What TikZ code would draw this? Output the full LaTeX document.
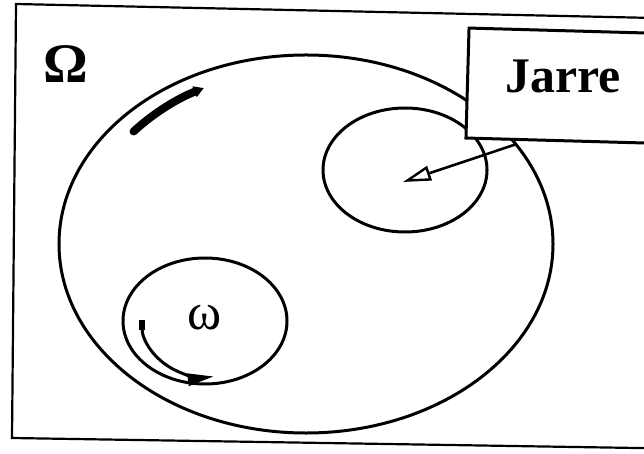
\documentclass[tikz,border=0pt]{standalone}
\usepackage{fontspec}
\setmainfont{Liberation Serif}
\usetikzlibrary{arrows.meta,calc}
\begin{document}
\begin{tikzpicture}[x=1bp,y=-1bp,
  frameline/.style={line width=2.2bp},
  outline/.style={line width=3bp},
  jarrebox/.style={draw, fill=white, line width=3bp, minimum width=260bp, minimum height=110bp, rotate=-1.6, anchor=west, inner sep=0pt},
  pointer/.style={line width=2.6bp, -{Triangle[open, length=28bp, width=15bp, line width=2.4bp]}},
  bigarrow/.style={line width=8bp, line cap=round, -{Triangle[length=10bp, width=11bp]}},
  omegaarrow/.style={line width=3bp, {Square[length=10bp, width=6bp]}-{Triangle[length=26bp, width=12bp]}},
  lbl/.style={inner sep=0pt}]
\useasboundingbox (0,0) rectangle (644,454);
\clip (0,0) rectangle (644,454);
% outer frame
\draw[frameline] (700,19) -- (16,4) -- (12,438) -- (700,449);
% big ellipse
\draw[outline] (306,244) ellipse [x radius=247bp, y radius=189bp];
% small circles
\draw[outline] (405,170) ellipse [x radius=82bp, y radius=62bp];
\draw[outline] (205,321) ellipse [x radius=82bp, y radius=63bp];
% labels
\node[lbl, font=\bfseries\fontsize{56}{56}\selectfont] (Om) at (66,64) {Ω};
\node[lbl, font=\fontsize{52}{52}\selectfont] (om) at (205,318) {ω};
% Jarre box
\node[jarrebox] (box) at (466,83) {};
\node[lbl, font=\bfseries\fontsize{50}{50}\selectfont] (jarre) at (563,76) {Jarre};
\coordinate (tail) at ($(box.south west)!0.2!(box.south east)+(0,3)$);
\coordinate (jtip) at (403,182);
\draw[pointer] (tail) -- (jtip);
% arrow along big ellipse
\draw[bigarrow] (133.6,131.5) arc[start angle=140, end angle=117, x radius=225bp, y radius=175bp];
% arrow inside small circle
\draw[omegaarrow] (142,320) arc[start angle=180, end angle=278, x radius=63bp, y radius=57bp];
\end{tikzpicture}
\end{document}
